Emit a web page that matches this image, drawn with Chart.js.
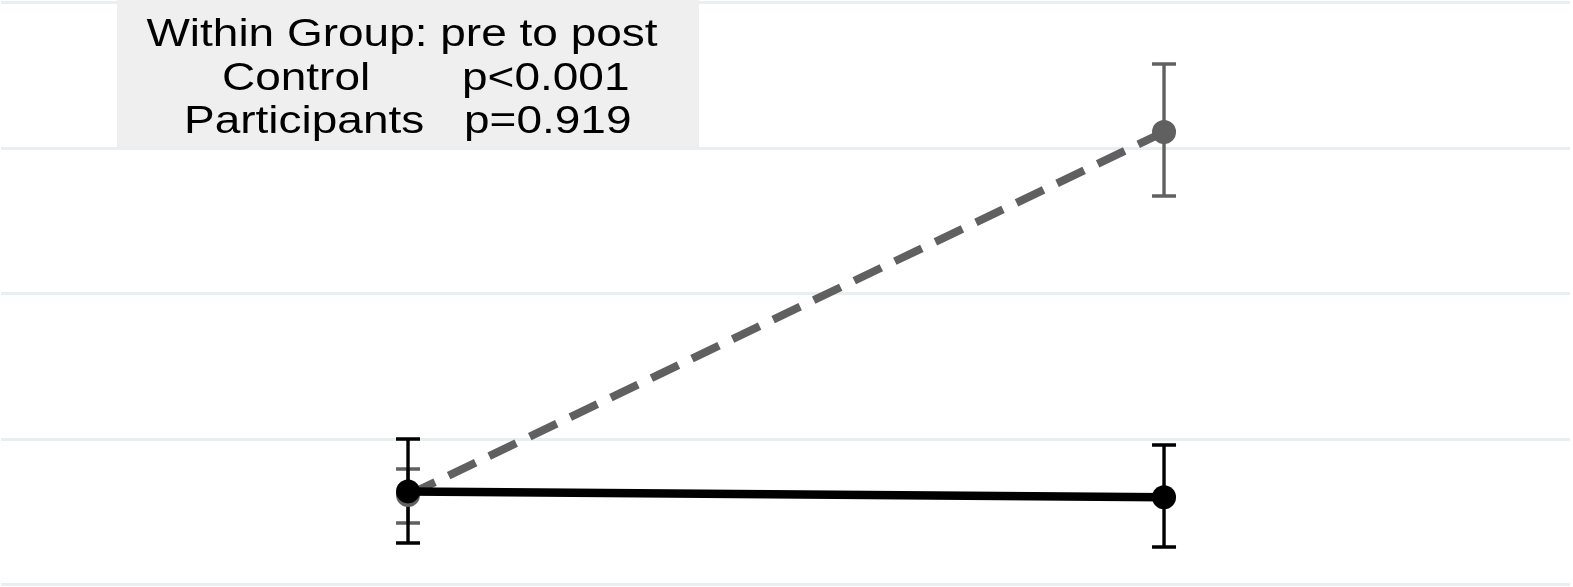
<!DOCTYPE html>
<html>
<head>
<meta charset="utf-8">
<script src="https://cdn.jsdelivr.net/npm/chart.js@4/dist/chart.umd.min.js"></script>
<style>
  html, body { margin: 0; padding: 0; background: #ffffff; }
  #wrap { width: 1573px; height: 587px; }
</style>
</head>
<body>
<div id="wrap"><canvas id="c" width="1573" height="587"></canvas></div>
<script>
// Time points and their positions on the x axis
const timePoints = ['Pre', 'Post'];
const timeX = [1, 2];

// Participants group: means with lower / upper error limits
const participantsMean  = [0.640, 0.600];
const participantsLower = [0.285, 0.258];
const participantsUpper = [1.000, 0.959];

// Control group: means with lower / upper error limits
const controlMean  = [0.615, 3.110];
const controlLower = [0.423, 2.670];
const controlUpper = [0.794, 3.577];

// Horizontal reference lines
const yTicks = [0, 1, 2, 3, 4];

// Annotation text
const noteTitle = 'Within Group: pre to post';
const noteRows = [
  ['Control', 'p<0.001'],
  ['Participants', 'p=0.919']
];

const BLACK = '#000000';
const GREY = '#606060';

function points(means) {
  return timeX.map((x, i) => ({ x: x, y: means[i] }));
}

// Error bars drawn under lines and points
const errorBars = {
  id: 'errorBars',
  beforeDatasetsDraw(chart) {
    const ctx = chart.ctx;
    const xs = chart.scales.x, ys = chart.scales.y;
    const groups = [
      { lo: controlLower, hi: controlUpper, color: GREY },
      { lo: participantsLower, hi: participantsUpper, color: BLACK }
    ];
    ctx.save();
    groups.forEach(g => {
      ctx.strokeStyle = g.color;
      ctx.lineWidth = 3.4;
      ctx.lineCap = 'butt';
      timeX.forEach((x, i) => {
        const px = xs.getPixelForValue(x);
        const top = ys.getPixelForValue(g.hi[i]);
        const bot = ys.getPixelForValue(g.lo[i]);
        ctx.beginPath();
        ctx.moveTo(px, top); ctx.lineTo(px, bot);
        ctx.moveTo(px - 12, top); ctx.lineTo(px + 12, top);
        ctx.moveTo(px - 12, bot); ctx.lineTo(px + 12, bot);
        ctx.stroke();
      });
    });
    ctx.restore();
  }
};

// Grey panel with the p-value summary
const notePanel = {
  id: 'notePanel',
  beforeDatasetsDraw(chart) {
    const ctx = chart.ctx;
    ctx.save();
    ctx.fillStyle = '#efefef';
    ctx.fillRect(117, 0, 582, 147);
    ctx.restore();
  },
  afterDraw(chart) {
    const ctx = chart.ctx;
    const sx = 1.21;
    ctx.save();
    ctx.fillStyle = '#000000';
    ctx.font = '38px "Liberation Sans", Arial, Helvetica, sans-serif';
    ctx.textBaseline = 'alphabetic';
    const drawText = (text, x, y, align) => {
      ctx.save();
      ctx.translate(x, y);
      ctx.scale(sx, 1);
      ctx.textAlign = align;
      ctx.fillText(text, 0, 0);
      ctx.restore();
    };
    drawText(noteTitle, 402, 46, 'center');
    drawText(noteRows[0][0], 222, 89.5, 'left');
    drawText(noteRows[0][1], 462, 89.5, 'left');
    drawText(noteRows[1][0], 184, 133, 'left');
    drawText(noteRows[1][1], 464, 133, 'left');
    ctx.restore();
  }
};

new Chart(document.getElementById('c'), {
  type: 'line',
  data: {
    datasets: [
      {
        label: 'Participants',
        data: points(participantsMean),
        borderColor: BLACK,
        backgroundColor: BLACK,
        borderWidth: 8.5,
        pointRadius: 12,
        pointBorderWidth: 0,
        pointBackgroundColor: BLACK,
        tension: 0
      },
      {
        label: 'Control',
        data: points(controlMean),
        borderColor: GREY,
        backgroundColor: GREY,
        borderWidth: 8,
        borderDash: [30, 15],
        borderCapStyle: 'butt',
        pointRadius: 12,
        pointBorderWidth: 0,
        pointBackgroundColor: GREY,
        tension: 0
      }
    ]
  },
  options: {
    responsive: false,
    animation: false,
    layout: { autoPadding: false, padding: { left: 1, right: 3, top: 2.5, bottom: 2.5 } },
    plugins: {
      legend: { display: false },
      tooltip: { enabled: false },
      title: { display: false }
    },
    scales: {
      x: {
        type: 'linear',
        min: 0.4616,
        max: 2.537,
        grid: { display: false, drawTicks: false },
        border: { display: false },
        ticks: { display: false },
        afterFit(scale) { scale.height = 0; }
      },
      y: {
        type: 'linear',
        min: yTicks[0],
        max: yTicks[yTicks.length - 1],
        grid: { color: '#e8eff1', lineWidth: 3, drawTicks: false },
        border: { display: false },
        ticks: { display: false, stepSize: 1 },
        afterBuildTicks(scale) { scale.ticks = yTicks.map(v => ({ value: v })); },
        afterFit(scale) { scale.width = 0; }
      }
    }
  },
  plugins: [notePanel, errorBars]
});
</script>
</body>
</html>
